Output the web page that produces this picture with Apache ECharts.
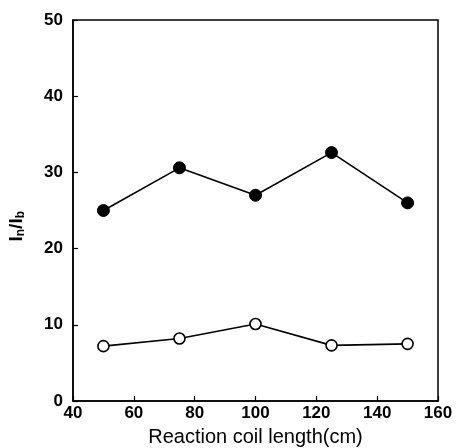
<!DOCTYPE html>
<html>
<head>
<meta charset="utf-8">
<script src="https://cdn.jsdelivr.net/npm/echarts@6/dist/echarts.min.js"></script>
<style>html,body{margin:0;padding:0;background:#fff;}#c{width:457px;height:448px;}</style>
</head>
<body>
<div id="c"></div>
<script>
var coilLength = [50, 75, 100, 125, 150];
var filledSeries = [25.0, 30.6, 27.0, 32.6, 26.0];
var openSeries = [7.2, 8.2, 10.1, 7.3, 7.5];
var xTicks = [40, 60, 80, 100, 120, 140, 160];
var yTicks = [0, 10, 20, 30, 40, 50];

var chart = echarts.init(document.getElementById('c'), null, {renderer: 'canvas'});
function pairs(xs, ys) { return xs.map(function (x, i) { return [x, ys[i]]; }); }
var font = '"Liberation Sans", Arial, Helvetica, sans-serif';
chart.setOption({
  backgroundColor: '#fff',
  animation: false,
  grid: {left: 73, right: 19, top: 20, bottom: 47, show: true, borderColor: '#000', borderWidth: 1.5,
         containLabel: false, outerBoundsMode: 'none'},
  xAxis: {
    type: 'value', min: 40, max: 160, interval: 20,
    name: 'Reaction coil length(cm)', nameLocation: 'middle', nameGap: 26,
    nameTextStyle: {fontFamily: font, fontSize: 20, color: '#000'},
    axisLine: {show: true, lineStyle: {color: '#000', width: 1.5}},
    axisTick: {show: true, inside: true, length: 5, lineStyle: {color: '#000', width: 1.2}},
    axisLabel: {fontFamily: font, fontSize: 17, fontWeight: 'bold', color: '#000', margin: 4},
    splitLine: {show: false}
  },
  yAxis: {
    type: 'value', min: 0, max: 50, interval: 10,
    axisLine: {show: true, lineStyle: {color: '#000', width: 1.5}},
    axisTick: {show: true, inside: true, length: 5, lineStyle: {color: '#000', width: 1.2}},
    axisLabel: {fontFamily: font, fontSize: 17, fontWeight: 'bold', color: '#000', margin: 10},
    splitLine: {show: false}
  },
  graphic: [{
    type: 'text', left: 7, top: 211, rotation: Math.PI / 2,
    style: {
      text: '{m|I}{s|n}{m|/I}{s|b}',
      rich: {
        m: {fontFamily: font, fontSize: 19, fontWeight: 'bold', fill: '#000'},
        s: {fontFamily: font, fontSize: 12, fontWeight: 'bold', fill: '#000', verticalAlign: 'bottom', padding: [9, 0, 0, 0]}
      }
    }
  }],
  series: [
    {
      type: 'line', data: pairs(coilLength, filledSeries),
      symbol: 'circle', symbolSize: 12,
      lineStyle: {color: '#000', width: 1.6},
      itemStyle: {color: '#000', borderColor: '#000', borderWidth: 1}
    },
    {
      type: 'line', data: pairs(coilLength, openSeries),
      symbol: 'circle', symbolSize: 11,
      lineStyle: {color: '#000', width: 1.6},
      itemStyle: {color: '#fff', borderColor: '#000', borderWidth: 1.6}
    }
  ]
});
</script>
</body>
</html>
